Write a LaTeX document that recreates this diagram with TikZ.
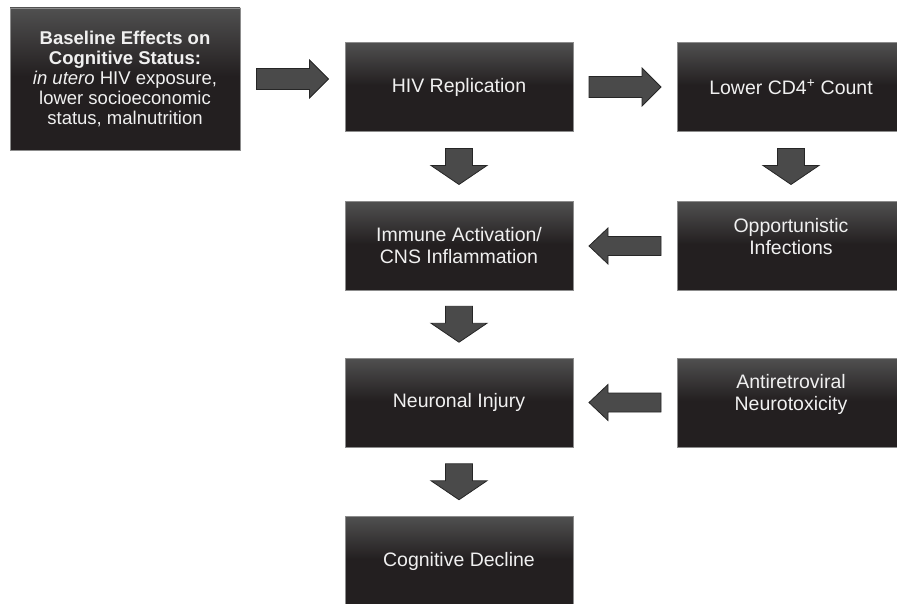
\documentclass[tikz,border=0pt]{standalone}
\usepackage{fontspec}
\setmainfont{Liberation Sans}
\usetikzlibrary{calc}
\definecolor{boxtop}{RGB}{80,80,80}
\definecolor{boxbot}{RGB}{35,31,32}
\definecolor{arrowfill}{RGB}{74,74,74}
\definecolor{boxline}{RGB}{140,140,140}
\pgfdeclareverticalshading{boxshade}{100bp}{color(0bp)=(boxbot); color(25bp)=(boxbot); color(51bp)=(boxbot); color(75bp)=(boxtop); color(100bp)=(boxtop)}
\newcommand{\rightblk}[1]{\draw[blk,shift={#1}] (-36,-10.5)--(17,-10.5)--(17,-19)--(36,0)--(17,19)--(17,10.5)--(-36,10.5)--cycle;}
\newcommand{\leftblk}[1]{\draw[blk,shift={#1},xscale=-1] (-36,-9.5)--(17,-9.5)--(17,-18)--(36,0)--(17,18)--(17,9.5)--(-36,9.5)--cycle;}
\newcommand{\downblk}[1]{\draw[blk,shift={#1}] (-13.5,-18)--(13.5,-18)--(13.5,-1)--(28,-1)--(0,18)--(-28,-1)--(-13.5,-1)--cycle;}
\begin{document}
\begin{tikzpicture}[x=1pt,y=-1pt,
 box/.style={draw=boxline,line width=0.8pt,shading=boxshade,text=white!94!black,align=center,
  minimum width=228pt,minimum height=89pt,inner sep=0pt,font=\fontsize{19.5}{22}\selectfont},
 raised/.style={text depth=20pt},
 blk/.style={draw=black!85,fill=arrowfill,line width=0.8pt,line join=miter}]
 \useasboundingbox (0,0) rectangle (897,604);
 \node[box,minimum width=230pt,minimum height=142pt,font=\fontsize{18.5}{20}\selectfont] (base) at (125,79)
  {\textbf{Baseline Effects on}\\\textbf{Cognitive Status:}\\\textit{in utero} HIV exposure,\\lower socioeconomic\\status, malnutrition};
 \node[box] (hiv) at (459,87) {HIV Replication};
 \node[box] (cd4) at (791,87) {Lower CD4\textsuperscript{+} Count};
 \node[box] (immune) at (459,246) {Immune Activation/\\CNS Inflammation};
 \node[box,raised] (opp) at (791,246) {Opportunistic\\Infections};
 \node[box] (neuron) at (459,402.5) {Neuronal Injury};
 \node[box,raised] (arv) at (791,402.5) {Antiretroviral\\Neurotoxicity};
 \node[box] (decline) at (459,561) {Cognitive Decline};
 \rightblk{($(base.east)!.5!(base.east-|hiv.west)$)}
 \rightblk{($(hiv.east)!.5!(cd4.west)$)}
 \downblk{($(hiv.south)!.5!(immune.north)$)}
 \downblk{($(cd4.south)!.5!(opp.north)$)}
 \leftblk{($(opp.west)!.5!(immune.east)$)}
 \downblk{($(immune.south)!.5!(neuron.north)$)}
 \leftblk{($(arv.west)!.5!(neuron.east)$)}
 \downblk{($(neuron.south)!.5!(decline.north)$)}
\end{tikzpicture}
\end{document}
